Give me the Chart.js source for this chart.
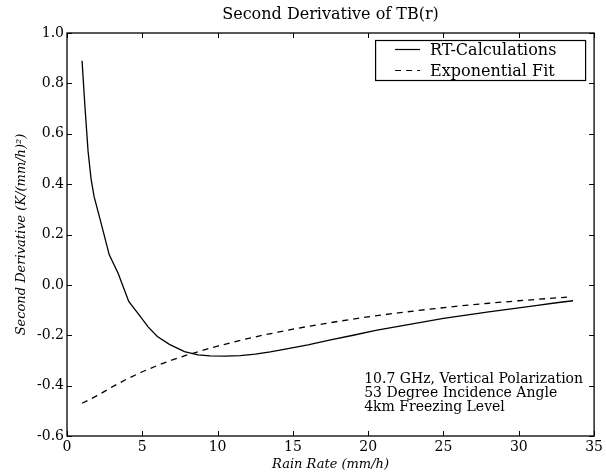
<!DOCTYPE html>
<html>
<head>
<meta charset="utf-8">
<script src="https://cdn.jsdelivr.net/npm/chart.js@4.4.1/dist/chart.umd.min.js"></script>
<style>
  html, body { margin: 0; padding: 0; background: #fff; }
  #wrap { width: 606px; height: 472px; }
</style>
</head>
<body>
<div id="wrap"><canvas id="myChart" width="606" height="472"></canvas></div>
<script>
// RT-Calculations (solid)
const rtRate = [1.0, 1.2, 1.4, 1.6, 1.8, 2.2, 2.8, 3.4, 4.1, 4.8, 5.4, 6.0, 6.8, 7.8, 8.7, 9.5, 10.5, 11.5, 12.5, 13.5, 14.5, 16, 17.5, 19, 20.5, 22, 23.5, 25, 26.5, 28, 29.5, 31, 32.5, 33.6];
const rtValues = [0.89, 0.70, 0.53, 0.42, 0.35, 0.26, 0.12, 0.045, -0.066, -0.12, -0.168, -0.205, -0.236, -0.265, -0.278, -0.282, -0.283, -0.281, -0.275, -0.266, -0.255, -0.238, -0.218, -0.2, -0.181, -0.165, -0.149, -0.133, -0.12, -0.107, -0.095, -0.083, -0.071, -0.063];

// Exponential fit (dashed)
const fitRate = [1, 2, 3, 4, 5, 6, 7, 8, 9, 10, 11, 12, 13, 14, 15, 16, 17, 18, 19, 20, 22, 24, 26, 28, 30, 32, 33.3];
const fitValues = [-0.47, -0.44, -0.405, -0.373, -0.345, -0.32, -0.298, -0.278, -0.26, -0.243, -0.228, -0.213, -0.2, -0.188, -0.176, -0.165, -0.155, -0.145, -0.136, -0.127, -0.111, -0.097, -0.084, -0.073, -0.063, -0.054, -0.048];

const seriesNames = ["RT-Calculations", "Exponential Fit"];
const noteLines = ["10.7 GHz, Vertical Polarization", "53 Degree Incidence Angle", "4km Freezing Level"];

const serif = "'DejaVu Serif', serif";

const toPoints = (xs, ys) => xs.map((x, i) => ({ x: x, y: ys[i] }));

// frame, inward ticks, legend box and note
const framePlugin = {
    id: "frame",
    afterDraw(chart) {
        const { ctx, chartArea: a, scales } = chart;
        ctx.save();
        ctx.strokeStyle = "#000";
        ctx.lineWidth = 1.3;
        ctx.strokeRect(a.left, a.top, a.right - a.left, a.bottom - a.top);

        ctx.lineWidth = 1;
        const tl = 5;
        scales.x.ticks.forEach((t) => {
            const px = Math.round(scales.x.getPixelForValue(t.value)) + 0.5;
            ctx.beginPath();
            ctx.moveTo(px, a.bottom); ctx.lineTo(px, a.bottom - tl);
            ctx.moveTo(px, a.top); ctx.lineTo(px, a.top + tl);
            ctx.stroke();
        });
        scales.y.ticks.forEach((t) => {
            const py = Math.round(scales.y.getPixelForValue(t.value)) + 0.5;
            ctx.beginPath();
            ctx.moveTo(a.left, py); ctx.lineTo(a.left + tl, py);
            ctx.moveTo(a.right, py); ctx.lineTo(a.right - tl, py);
            ctx.stroke();
        });

        // legend
        const bx = a.right - 219, by = a.top + 7, bw = 210, bh = 40;
        ctx.fillStyle = "#fff";
        ctx.fillRect(bx, by, bw, bh);
        ctx.lineWidth = 1.2;
        ctx.strokeRect(bx + 0.5, by + 0.5, bw, bh);
        ctx.font = "16px " + serif;
        ctx.fillStyle = "#000";
        ctx.textBaseline = "middle";
        seriesNames.forEach((name, i) => {
            const y = by + 9.5 + i * 21;
            ctx.beginPath();
            ctx.setLineDash(i === 1 ? [6, 5] : []);
            ctx.lineWidth = 1.2;
            ctx.moveTo(bx + 20, y); ctx.lineTo(bx + 45, y);
            ctx.stroke();
            ctx.setLineDash([]);
            ctx.fillText(name, bx + 55, y + 1);
        });

        // note
        ctx.font = "14px " + serif;
        ctx.textBaseline = "alphabetic";
        noteLines.forEach((line, i) => {
            ctx.fillText(line, scales.x.getPixelForValue(20) - 4, a.top + 350 + i * 14);
        });
        ctx.restore();
    },
};

const ctx = document.getElementById("myChart");
new Chart(ctx, {
    type: "scatter",
    data: {
        datasets: [
            {
                label: seriesNames[0],
                data: toPoints(rtRate, rtValues),
                showLine: true,
                borderColor: "#000",
                borderWidth: 1.3,
                pointRadius: 0,
                tension: 0,
            },
            {
                label: seriesNames[1],
                data: toPoints(fitRate, fitValues),
                showLine: true,
                borderColor: "#000",
                borderWidth: 1.3,
                borderDash: [6, 5],
                pointRadius: 0,
                tension: 0,
            },
        ],
    },
    options: {
        responsive: false,
        animation: false,
        layout: { padding: { left: 0, right: 10, top: 0, bottom: 0 } },
        plugins: {
            legend: { display: false },
            tooltip: { enabled: false },
            title: {
                display: true,
                fullSize: false,
                text: "Second Derivative of TB(r)",
                color: "#000",
                font: { family: serif, size: 16, weight: "normal" },
                padding: { top: 5.4, bottom: 8.4 },
            },
        },
        scales: {
            x: {
                type: "linear",
                min: 0,
                max: 35,
                ticks: {
                    stepSize: 5,
                    color: "#000",
                    padding: 3,
                    maxRotation: 0,
                    font: { family: serif, size: 14 },
                },
                grid: { display: false, drawTicks: false },
                border: { display: false },
                title: {
                    display: true,
                    text: "Rain Rate (mm/h)",
                    color: "#000",
                    font: { family: serif, size: 13, style: "italic" },
                    padding: { top: 0, bottom: 0 },
                },
                afterFit(scale) { scale.height = 36; },
            },
            y: {
                type: "linear",
                min: -0.6,
                max: 1.0,
                ticks: {
                    stepSize: 0.2,
                    color: "#000",
                    padding: 3,
                    font: { family: serif, size: 14 },
                    callback: (v) => v.toFixed(1),
                },
                grid: { display: false, drawTicks: false },
                border: { display: false },
                title: {
                    display: true,
                    text: "Second Derivative (K/(mm/h)²)",
                    color: "#000",
                    font: { family: serif, size: 13, style: "italic" },
                    padding: { top: 14, bottom: 0 },
                },
                afterFit(scale) { scale.width = 67; },
            },
        },
    },
    plugins: [framePlugin],
});
</script>
</body>
</html>
